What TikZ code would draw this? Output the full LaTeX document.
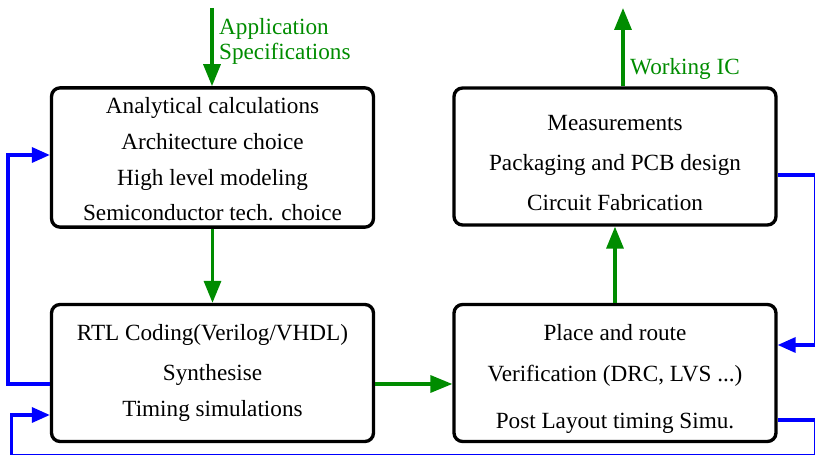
\documentclass[tikz,border=0pt]{standalone}
\usepackage{fontspec}
\setmainfont{Liberation Serif}
\usetikzlibrary{arrows.meta,calc}
\definecolor{flowgreen}{RGB}{0,140,0}
\begin{document}
\begin{tikzpicture}[line join=miter,x=0.02cm,y=-0.02cm,>={Triangle[length=0.44cm,width=0.34cm]}]
	\tikzset{stagebox/.style={draw,line width=1.9pt,rounded corners=0.17cm,minimum width=6.44cm,minimum height=2.74cm,align=center,font=\fontsize{13.2}{20.3}\selectfont},
		garrow/.style={->,flowgreen,line width=1.9pt},
		barrow/.style={-{Triangle[length=0.36cm,width=0.3cm]},blue,line width=1.9pt},
		glabel/.style={text=flowgreen,align=left,font=\fontsize{13.2}{14.3}\selectfont}}
	\useasboundingbox (0,0) rectangle (815,455);
	% Các khối của quy trình
	\node[stagebox] (calc) at (212.5,157.5) {\rule{0pt}{11.5pt}Analytical calculations\\Architecture choice\\High level modeling\\Semiconductor tech. choice};
	\node[stagebox] (rtl) at (212.5,373) {RTL Coding(Verilog/VHDL)\\[2.5pt]Synthesise\\Timing simulations};
	\node[stagebox] (meas) at (615,156.5) {\rule{0pt}{16pt}Measurements\\[2.5pt]Packaging and PCB design\\[2.5pt]Circuit Fabrication};
	\node[stagebox] (par) at (615,373) {\rule{0pt}{16pt}Place and route\\[3pt]Verification (DRC, LVS ...)\\[6pt]Post Layout timing Simu.};
	% Đầu vào và đầu ra
	\coordinate (specin) at (212,8);
	\coordinate (icout) at (623,8);
	\node[glabel,anchor=west] (spec) at (213,41.5) {Application\\Specifications};
	\node[glabel,anchor=west] (wic) at (624,69) {Working IC};
	\draw[garrow] (specin) -- (calc.north -| specin);
	\draw[garrow] (meas.north -| icout) -- (icout);
	% Luồng chính (xanh lá)
	\draw[garrow] (calc) -- (rtl);
	\draw[garrow] ($(rtl.east)+(0,11)$) -- ($(par.west)+(0,11)$);
	\draw[garrow] (par) -- (meas);
	% Các vòng phản hồi (xanh dương)
	\draw[barrow] ($(rtl.west)+(0,11)$) -- ++(-42,0) |- ($(calc.west)+(0,-2.5)$);
	\draw[barrow] ($(meas.east)+(0,18.5)$) -- ++(37.6,0) |- ($(par.east)+(0,-28)$);
	\draw[barrow] ($(par.east)+(0,47)$) -- ++(37.6,0) -- ++(0,35.5) -- ++(-803.6,0) |- ($(rtl.west)+(0,42)$);
\end{tikzpicture}
\end{document}
